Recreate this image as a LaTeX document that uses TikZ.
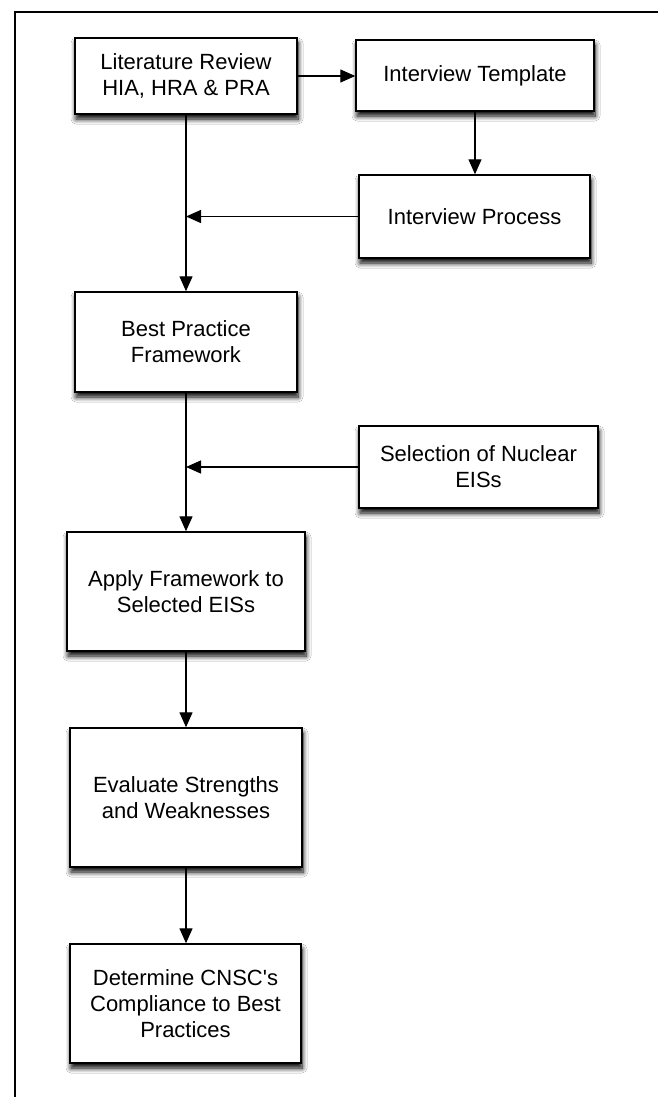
\documentclass[tikz,border=0pt]{standalone}
\usepackage{fontspec}
\setmainfont{Liberation Sans}
\usetikzlibrary{arrows.meta,shadows.blur}
\begin{document}
\begin{tikzpicture}[x=1pt,y=-1pt,
  box/.style={draw=black,line width=1.4pt,fill=white,align=center,
    font=\fontsize{22}{26}\selectfont,inner sep=0pt,
    blur shadow={shadow xshift=1pt,shadow yshift=-5pt,shadow blur radius=5pt,shadow opacity=100,shadow blur steps=8}},
  conn/.style={line width=1.3pt,draw=black},
  arr/.style={conn,-{Triangle[length=15pt,width=13pt]}}]
\useasboundingbox (0,0) rectangle (657,1097);
\fill[white] (0,0) rectangle (657,1097);
\draw[line width=2pt] (15,1100) -- (15,12) -- (660,12);
\node[box,minimum width=222pt,minimum height=76pt] (lit) at (186,76) {Literature Review\\HIA, HRA \& PRA};
\node[box,minimum width=238pt,minimum height=71pt] (tmpl) at (475,75.5) {Interview Template};
\node[box,minimum width=231pt,minimum height=83pt] (proc) at (474.5,216.5) {Interview Process};
\node[box,minimum width=222pt,minimum height=100pt] (bp) at (186,342) {Best Practice\\Framework};
\node[box,minimum width=239pt,minimum height=82pt] (sel) at (478.5,467) {Selection of Nuclear\\EISs};
\node[box,minimum width=238pt,minimum height=119pt] (app) at (186,591.5) {Apply Framework to\\Selected EISs};
\node[box,minimum width=232pt,minimum height=139pt] (eval) at (186,797.5) {Evaluate Strengths\\and Weaknesses};
\node[box,minimum width=231pt,minimum height=119pt] (det) at (185.5,1003.5) {Determine CNSC\textquotesingle s\\Compliance to Best\\Practices};
\draw[arr] (lit.east) -- (lit.east -| tmpl.west);
\draw[arr] (tmpl.south) -- (tmpl.south |- proc.north);
\draw[arr] (lit.south) -- (bp.north);
\draw[arr] (proc.west) -- (proc.west -| lit.south);
\draw[arr] (bp.south) -- (bp.south |- app.north);
\draw[arr] (sel.west) -- (sel.west -| bp.south);
\draw[arr] (app.south) -- (app.south |- eval.north);
\draw[arr] (eval.south) -- (eval.south |- det.north);
\end{tikzpicture}
\end{document}
